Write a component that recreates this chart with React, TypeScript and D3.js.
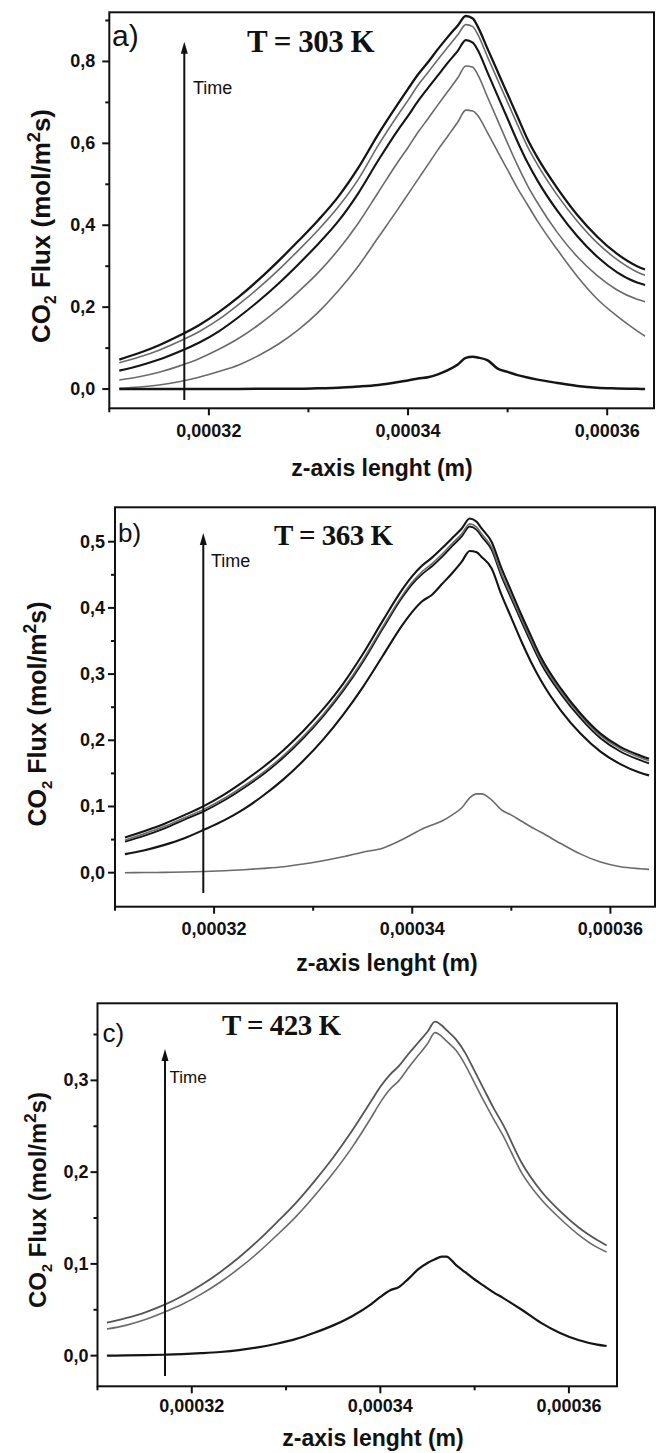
import React from "react";
import * as d3 from "d3";

// z positions (micrometre units ×1e-6 m)
const zA = [311,313,315,317,319,321,323,325,327,329,331,333,335,337,339,340,341,342,343,344,345,345.8,346.5,347,348,349,350,351,352,353,355,357,359,361,363,363.8];
const zB = [311,313,315,317,319,321,323,325,327,329,331,333,335,337,339,340,341,342,343,344,345,345.8,346.5,347,348,349,350,351,352,353,355,357,359,361,363,363.9];
const zC = [311,313,315,317,319,321,323,325,327,329,331,333,335,337,339,340,341,342,343,344,345,345.8,346.5,347,348,349,350,351,352,353,355,357,359,361,363,364];

// Panel a) T = 303 K
const a5 = [.072,.088,.107,.130,.156,.188,.225,.267,.313,.362,.413,.470,.540,.622,.697,.733,.768,.798,.830,.860,.888,.911,.905,.885,.83,.775,.72,.665,.61,.565,.49,.425,.372,.33,.30,.292];
const a4 = [.064,.078,.095,.116,.140,.170,.207,.247,.291,.339,.389,.445,.512,.595,.670,.705,.742,.773,.805,.835,.865,.89,.885,.866,.81,.755,.70,.645,.592,.548,.473,.41,.357,.316,.286,.278];
const a3 = [.045,.057,.072,.091,.113,.141,.176,.215,.258,.305,.355,.41,.478,.558,.633,.667,.703,.735,.766,.797,.826,.852,.846,.828,.772,.716,.66,.604,.553,.509,.435,.373,.323,.285,.26,.254];
const a2 = [.022,.030,.041,.056,.074,.097,.124,.157,.195,.238,.285,.340,.405,.480,.555,.59,.627,.66,.694,.727,.76,.789,.786,.768,.712,.656,.60,.546,.497,.455,.382,.323,.277,.242,.219,.213];
const a1 = [.002,.005,.010,.018,.029,.043,.059,.082,.110,.145,.188,.24,.30,.37,.44,.476,.512,.548,.584,.618,.652,.681,.679,.668,.625,.58,.535,.49,.45,.41,.34,.275,.22,.178,.142,.129];
const a0 = [0,0,0,0,0,0,.0003,.0005,.0008,.001,.002,.003,.006,.010,.017,.021,.026,.029,.036,.046,.060,.076,.079,.077,.070,.050,.042,.034,.028,.023,.015,.0075,.003,.0015,.0005,0];

// Panel b) T = 363 K
const b4 = [.053,.063,.074,.087,.101,.118,.138,.16,.185,.214,.247,.285,.33,.38,.428,.448,.464,.476,.49,.505,.52,.535,.53,.52,.50,.46,.425,.39,.357,.325,.278,.24,.21,.19,.177,.172];
const b3 = [.049,.059,.070,.083,.096,.112,.131,.152,.177,.206,.239,.277,.321,.371,.419,.439,.455,.467,.481,.497,.512,.527,.522,.512,.492,.452,.418,.384,.351,.32,.274,.237,.207,.187,.174,.169];
const b2 = [.047,.056,.067,.080,.093,.109,.128,.149,.174,.203,.236,.274,.318,.368,.416,.436,.451,.463,.477,.493,.508,.523,.518,.508,.488,.448,.414,.380,.347,.316,.270,.233,.203,.183,.170,.165];
const b1 = [.028,.034,.042,.052,.065,.079,.096,.117,.141,.169,.201,.238,.28,.327,.374,.394,.41,.42,.436,.452,.47,.486,.484,.477,.46,.42,.385,.35,.318,.29,.245,.21,.183,.164,.151,.147];
const b0 = [0,.0002,.0005,.001,.0018,.003,.0045,.0065,.009,.013,.018,.024,.031,.037,.05,.058,.066,.072,.078,.087,.098,.113,.119,.119,.11,.095,.087,.078,.069,.061,.044,.028,.016,.009,.006,.005];

// Panel c) T = 423 K
const c2 = [.036,.041,.047,.055,.065,.077,.091,.107,.125,.145,.166,.19,.216,.245,.277,.293,.306,.316,.329,.341,.353,.364,.36,.355,.345,.33,.31,.29,.27,.252,.21,.18,.158,.14,.126,.12];
const c1 = [.029,.033,.039,.047,.056,.067,.080,.095,.112,.131,.151,.174,.199,.227,.259,.276,.29,.30,.314,.327,.340,.352,.348,.343,.333,.317,.297,.277,.258,.240,.199,.171,.15,.132,.118,.113];
const c0 = [0,.0002,.0005,.001,.0017,.0027,.004,.006,.009,.013,.018,.025,.033,.043,.056,.064,.071,.075,.084,.094,.101,.105,.108,.108,.099,.091,.083,.076,.069,.063,.05,.036,.025,.017,.012,.0105];

// Axis ticks
const xMajor = [0.00032, 0.00034, 0.00036];
const xMinor = [0.00031, 0.00033, 0.00035];
const yMajorA = [0, 0.2, 0.4, 0.6, 0.8];
const yMinorA = [0.1, 0.3, 0.5, 0.7, 0.9];
const yMajorB = [0, 0.1, 0.2, 0.3, 0.4, 0.5];
const yMinorB = [-0.05, 0.05, 0.15, 0.25, 0.35, 0.45];
const yMajorC = [0, 0.1, 0.2, 0.3];
const yMinorC = [0.05, 0.15, 0.25, 0.35];

const titles = ["T = 303 K", "T = 363 K", "T = 423 K"];
const letters = ["a)", "b)", "c)"];

const BLACK = "#151515";
const GREY = "#6a6a6a";

const panels = [
  {
    letter: letters[0], title: titles[0], z: zA,
    series: [
      { v: a1, c: GREY, w: 1.6 }, { v: a2, c: GREY, w: 1.6 }, { v: a3, c: BLACK, w: 2.1 },
      { v: a4, c: GREY, w: 1.6 }, { v: a5, c: BLACK, w: 2.3 }, { v: a0, c: BLACK, w: 2.5 },
    ],
    xDom: [0.00031, 0.0003647], xR: [109.3, 654], yDom: [-0.047, 0.92], yR: [408.3, 12.3],
    yMajor: yMajorA, yMinor: yMinorA, yFmt: ".1f",
    letterPos: [112, 45.5, 30], titlePos: [247, 51.5, 31],
    arrow: [184.3, 400, 41.7], timePos: [193, 94, 18],
    yLab: [50, 226, 26], xLab: [382, 476, 23], xTickY: 436.7, yTickGap: 14,
  },
  {
    letter: letters[1], title: titles[1], z: zB,
    series: [
      { v: b0, c: GREY, w: 1.6 }, { v: b1, c: BLACK, w: 2.1 }, { v: b2, c: BLACK, w: 1.8 },
      { v: b3, c: GREY, w: 1.6 }, { v: b4, c: BLACK, w: 2.1 },
    ],
    xDom: [0.00031, 0.0003645], xR: [115, 655], yDom: [-0.0514, 0.552], yR: [906.7, 507.3],
    yMajor: yMajorB, yMinor: yMinorB, yFmt: ".1f",
    letterPos: [118, 541.5, 26], titlePos: [274, 545, 29],
    arrow: [203.3, 893, 533], timePos: [211, 567, 18],
    yLab: [46, 714, 25], xLab: [387, 971, 23], xTickY: 935, yTickGap: 10,
  },
  {
    letter: letters[2], title: titles[2], z: zC,
    series: [
      { v: c0, c: BLACK, w: 2.2 }, { v: c1, c: GREY, w: 1.6 }, { v: c2, c: "#555", w: 1.8 },
    ],
    xDom: [0.00031, 0.0003651], xR: [97.5, 617], yDom: [-0.0334, 0.384], yR: [1386.3, 1003.3],
    yMajor: yMajorC, yMinor: yMinorC, yFmt: ".1f",
    letterPos: [102.5, 1041.5, 26], titlePos: [222, 1035, 29],
    arrow: [165, 1376, 1049], timePos: [169.5, 1083, 17],
    yLab: [46, 1200, 24], xLab: [373, 1446, 23], xTickY: 1412, yTickGap: 9,
  },
];

const SANS = "Arial, 'Liberation Sans', Helvetica, sans-serif";
const SERIF = "'Times New Roman', 'Liberation Serif', serif";

function comma(s: string) {
  return s.replace(".", ",");
}

function Panel({ p }: { p: any }) {
  const x = d3.scaleLinear().domain(p.xDom).range(p.xR);
  const y = d3.scaleLinear().domain(p.yDom).range(p.yR);
  const line = d3
    .line<[number, number]>()
    .x((d) => x(d[0] * 1e-6))
    .y((d) => y(d[1]))
    .curve(d3.curveMonotoneX);
  const [x0, x1] = p.xR;
  const [yb, yt] = p.yR;
  const fx = d3.format(".5f");
  const fy = d3.format(p.yFmt);
  const [ax, ay0, ay1] = p.arrow;
  return (
    <g>
      {p.series.map((s: any, i: number) => (
        <path
          key={i}
          d={line(p.z.map((z: number, k: number) => [z, s.v[k]]) as any) || ""}
          fill="none"
          stroke={s.c}
          strokeWidth={s.w}
          strokeLinejoin="round"
        />
      ))}
      <rect x={x0} y={yt} width={x1 - x0} height={yb - yt} fill="none" stroke="#111" strokeWidth={2} />
      {p.yMajor.map((v: number) => (
        <g key={"ym" + v}>
          <line x1={x0 - 7} x2={x0} y1={y(v)} y2={y(v)} stroke="#111" strokeWidth={2} />
          <text x={x0 - p.yTickGap} y={y(v) + 6} textAnchor="end" fontFamily={SANS} fontWeight="bold" fontSize={18} fill="#111">
            {comma(fy(v))}
          </text>
        </g>
      ))}
      {p.yMinor
        .filter((v: number) => y(v) > yt + 1 && y(v) < yb - 1)
        .map((v: number) => (
          <line key={"yn" + v} x1={x0 - 4} x2={x0} y1={y(v)} y2={y(v)} stroke="#111" strokeWidth={2} />
        ))}
      {xMajor.map((v) => (
        <g key={"xm" + v}>
          <line x1={x(v)} x2={x(v)} y1={yb} y2={yb + 7} stroke="#111" strokeWidth={2} />
          <text x={x(v)} y={p.xTickY} textAnchor="middle" fontFamily={SANS} fontWeight="bold" fontSize={18} fill="#111">
            {comma(fx(v))}
          </text>
        </g>
      ))}
      {xMinor.map((v) => (
        <line key={"xn" + v} x1={x(v)} x2={x(v)} y1={yb} y2={yb + 4} stroke="#111" strokeWidth={2} />
      ))}
      <text x={p.letterPos[0]} y={p.letterPos[1]} fontFamily={SANS} fontSize={p.letterPos[2]} fill="#111">
        {p.letter}
      </text>
      <text x={p.titlePos[0]} y={p.titlePos[1]} fontFamily={SERIF} fontWeight="bold" fontSize={p.titlePos[2]} fill="#111" letterSpacing={-0.5}>
        {p.title}
      </text>
      <line x1={ax} x2={ax} y1={ay0} y2={ay1 + 8} stroke="#111" strokeWidth={2} />
      <path d={`M${ax},${ay1} L${ax - 3.5},${ay1 + 12} L${ax + 3.5},${ay1 + 12} Z`} fill="#111" />
      <text x={p.timePos[0]} y={p.timePos[1]} fontFamily={SANS} fontSize={p.timePos[2]} fill="#111">
        Time
      </text>
      <text
        transform={`translate(${p.yLab[0]},${p.yLab[1]}) rotate(-90)`}
        textAnchor="middle"
        fontFamily={SANS}
        fontWeight="bold"
        fontSize={p.yLab[2]}
        fill="#111"
      >
        CO<tspan fontSize={p.yLab[2] * 0.6} dy={6}>2</tspan>
        <tspan dy={-6}> Flux (mol/m</tspan>
        <tspan fontSize={p.yLab[2] * 0.7} dy={-10}>2</tspan>
        <tspan dy={10}>s)</tspan>
      </text>
      <text x={p.xLab[0]} y={p.xLab[1]} textAnchor="middle" fontFamily={SANS} fontWeight="bold" fontSize={p.xLab[2]} fill="#111">
        z-axis lenght (m)
      </text>
    </g>
  );
}

export default function App() {
  return (
    <svg
      width={656}
      height={1453}
      style={{ position: "absolute", left: 0, top: 0, background: "#fff" }}
    >
      <rect x={0} y={0} width={656} height={1453} fill="#fff" />
      {panels.map((p, i) => (
        <Panel key={i} p={p} />
      ))}
    </svg>
  );
}
